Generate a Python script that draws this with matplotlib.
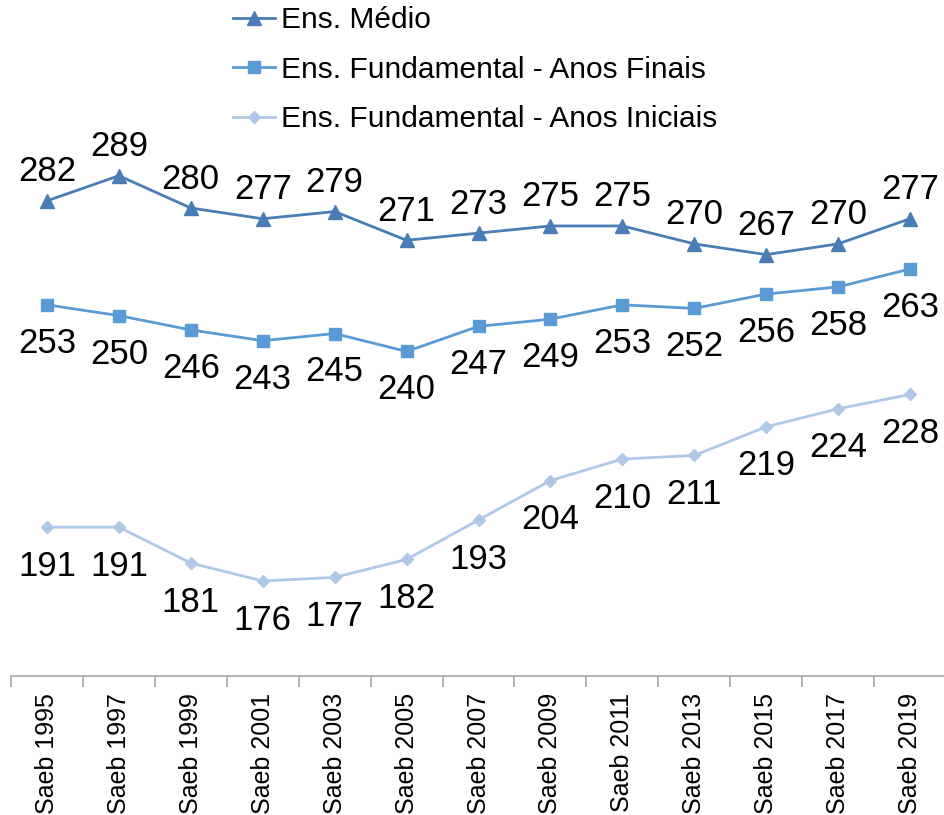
import numpy as np
import matplotlib
matplotlib.use('Agg')
import matplotlib.pyplot as plt

plt.rcParams['font.family'] = ['Liberation Sans', 'DejaVu Sans']

edicoes = ['Saeb 1995', 'Saeb 1997', 'Saeb 1999', 'Saeb 2001', 'Saeb 2003',
           'Saeb 2005', 'Saeb 2007', 'Saeb 2009', 'Saeb 2011', 'Saeb 2013',
           'Saeb 2015', 'Saeb 2017', 'Saeb 2019']
medio = [282, 289, 280, 277, 279, 271, 273, 275, 275, 270, 267, 270, 277]
finais = [253, 250, 246, 243, 245, 240, 247, 249, 253, 252, 256, 258, 263]
iniciais = [191, 191, 181, 176, 177, 182, 193, 204, 210, 211, 219, 224, 228]

c_medio = '#4a7db5'
c_finais = '#5b9bd5'
c_iniciais = '#b0c8e8'


def main():
    fig = plt.figure(figsize=(9.44, 8.15), dpi=100)
    ax = fig.add_axes([11 / 944, 1 - 676 / 815, 935 / 944, 676 / 815])
    x = np.arange(len(edicoes))

    series = (
        (medio, c_medio, '^', 9.5, 'Ens. Médio', 14.0),
        (finais, c_finais, 's', 8.5, 'Ens. Fundamental - Anos Finais', -34.5),
        (iniciais, c_iniciais, 'D', 6.5, 'Ens. Fundamental - Anos Iniciais', -35.0),
    )
    for vals, col, mk, ms, lab, dy in series:
        ax.plot(x, vals, color=col, marker=mk, markersize=ms, linewidth=2,
                label=lab)
        for xi, v in zip(x, vals):
            ax.annotate(str(v), (xi, v), xytext=(0, dy),
                        textcoords='offset points', ha='center',
                        va='baseline', fontsize=25, color='black')

    ax.set_xlim(-0.5, len(edicoes) - 0.5)
    ax.set_ylim(149.5, 338)
    ax.set_yticks([])
    ax.set_xticks(x)
    ax.set_xticklabels(edicoes, rotation=90, fontsize=18)
    ax.set_xticks(np.arange(-0.5, len(edicoes)), minor=True)
    ax.tick_params(axis='x', which='major', length=0, pad=12)
    ax.tick_params(axis='x', which='minor', length=8, color='#a6a6a6',
                   width=1.2)
    for side in ('left', 'right', 'top'):
        ax.spines[side].set_visible(False)
    ax.spines['bottom'].set_color('#a6a6a6')
    ax.spines['bottom'].set_linewidth(1.2)

    fig.legend(loc='upper left', bbox_to_anchor=(233 / 944, 1 - 6 / 815),
               frameon=False, fontsize=21.5, handlelength=1.4,
               handletextpad=0.2, labelspacing=0.72, borderpad=0,
               borderaxespad=0)

    fig.savefig('out.png', dpi=100)


if __name__ == '__main__':
    main()
